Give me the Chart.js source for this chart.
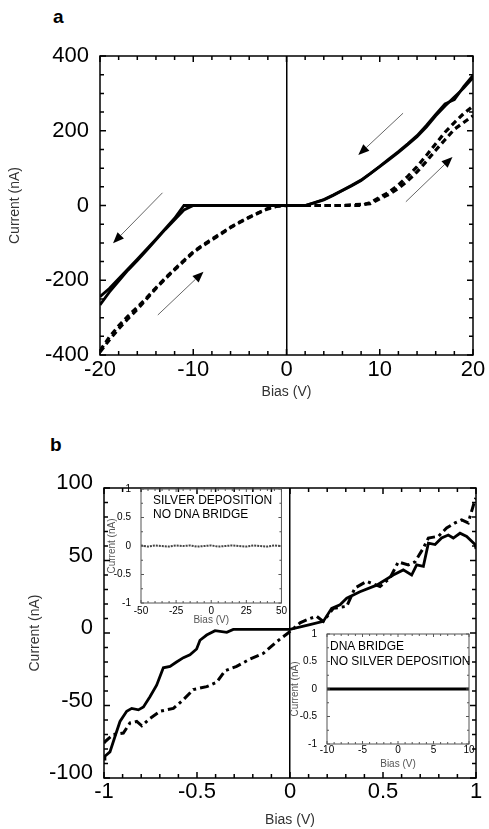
<!DOCTYPE html>
<html>
<head>
<meta charset="utf-8">
<script src="https://cdn.jsdelivr.net/npm/chart.js@4.4.1/dist/chart.umd.min.js"></script>
<style>
  body { margin: 0; background: #fff; width: 489px; height: 829px; overflow: hidden; position: relative; font-family: 'Liberation Sans', Arial, sans-serif; }
  .box { position: absolute; }
  .panel-letter { position: absolute; font-weight: bold; font-size: 19px; color: #000; }
  .note { position: absolute; font-size: 12px; color: #000; white-space: nowrap; line-height: 14px; }
</style>
</head>
<body>
<div class="panel-letter" style="left:53px; top:6px;">a</div>
<div class="panel-letter" style="left:50px; top:434px;">b</div>

<div class="box" style="left:0; top:0;"><canvas id="chartA" width="489" height="410"></canvas></div>
<div class="box" style="left:0; top:420px;"><canvas id="chartB" width="489" height="409"></canvas></div>
<div class="box" style="left:105px; top:480px;"><canvas id="inset1" width="184" height="146"></canvas></div>
<div class="box" style="left:287px; top:626px;"><canvas id="inset2" width="188" height="144"></canvas></div>

<div class="note" style="left:153px; top:493px;">SILVER DEPOSITION<br>NO DNA BRIDGE</div>
<div class="note" style="left:330px; top:639px; line-height:15px;">DNA BRIDGE<br>NO SILVER DEPOSITION</div>

<script>
// panel a: bias sweep -20..20 V, current in nA
const biasA = [-20,-19,-18,-17,-16,-15,-14,-13,-12,-11,-10,-9,-8,-7,-6,-5,-4,-3,-2,-1,0,1,2,3,4,5,6,7,8,9,10,11,12,13,14,15,16,17,18,19,20];
const solidSweepA = [-244,-222,-196,-170,-144,-117,-90,-62,-34,0,0,0,0,0,0,0,0,0,0,0,0,0,0,7,15,27,40,53,67,85,104,123,142,163,184,210,240,266,290,314,342];
const solidReturnA = [-266,-232,-202,-173,-147,-120,-92,-64,-38,-12,0,0,0,0,0,0,0,0,0,0,0,0,0,8,16,28,41,54,68,86,105,125,144,165,187,214,244,272,283,318,348];
const dashedSweepA = [-392,-360,-330,-303,-278,-250,-222,-196,-172,-149,-126,-108,-92,-76,-59,-45,-32,-20,-9,-2,0,0,0,0,0,0,0,0,0,8,22,36,55,78,104,134,165,196,222,246,266];
const dashedReturnA = [-388,-352,-322,-296,-272,-247,-220,-194,-170,-147,-124,-106,-90,-74,-58,-44,-31,-19,-8,-2,0,0,0,0,0,0,0,2,3,5,18,30,46,66,90,118,148,176,204,222,240];
const ticksA_x = [-20,-10,0,10,20];
const ticksA_y = [-400,-200,0,200,400];
// sweep direction arrows [fromBias, fromCurrent, toBias, toCurrent]
const arrowsA = [[12.5,247,7.7,135],[12.8,10,17.8,130],[-13.3,34,-18.6,-101],[-13.8,-293,-8.9,-177]];

// panel b
const biasBSolid = [-1,-0.995,-0.968,-0.94,-0.914,-0.878,-0.851,-0.815,-0.788,-0.753,-0.717,-0.681,-0.645,-0.61,-0.573,-0.538,-0.502,-0.484,-0.448,-0.403,-0.34,-0.305,0,0.107,0.179,0.224,0.269,0.305,0.376,0.466,0.555,0.609,0.654,0.681,0.717,0.744,0.78,0.815,0.851,0.878,0.914,0.95,0.995,1];
const currentBSolid = [-87,-85,-82,-71,-61,-54,-52,-53,-51,-44,-36,-24,-23,-20,-17,-15,-11,-5,-1.4,1.6,0.5,2.5,2.5,5.7,8,17,19.5,24,28.5,33,40,43.5,40,47,46,62,61,65.5,67.6,65.5,68.8,66.6,61,58];
const biasBDash = [-1,-0.995,-0.95,-0.896,-0.86,-0.824,-0.797,-0.753,-0.699,-0.627,-0.573,-0.52,-0.448,-0.394,-0.349,-0.287,-0.215,-0.143,-0.072,-0.01,0.054,0.107,0.143,0.179,0.233,0.305,0.349,0.412,0.484,0.538,0.582,0.636,0.672,0.717,0.744,0.798,0.842,0.887,0.923,0.958,0.995,1];
const currentBDash = [-76,-75,-70,-69,-62,-61,-64,-59,-54,-52,-46,-39,-37,-34,-26,-23,-18,-14,-6,0,7,10,11.5,8,17,18.4,31,35.6,32,38,49,47,49,58.6,65.5,66.7,72.4,75.9,78,75.9,92,93];

// insets
const biasInset1 = [-50,-45,-40,-35,-30,-25,-20,-15,-10,-5,0,5,10,15,20,25,30,35,40,45,50];
const currentInset1 = [0.01,-0.01,0.01,0,-0.01,0.01,0,0.01,-0.01,0,0.01,-0.01,0,0.01,0,-0.01,0.01,0,-0.01,0.01,0];
const biasInset2 = [-10,-5,0,5,10];
const currentInset2 = [0,0,0,0,0];

Chart.defaults.font.family = "'Liberation Sans', Arial, sans-serif";
Chart.defaults.color = '#000';

const pts = (xs, ys) => xs.map((v, i) => ({ x: v, y: ys[i] }));

// frame box + inward ticks on all four sides
const frameTicks = {
    id: 'frameTicks',
    afterDatasetsDraw(chart, args, opts) {
        const { ctx, chartArea: a, scales: { x, y } } = chart;
        ctx.save();
        ctx.strokeStyle = opts.color;
        ctx.lineWidth = opts.width;
        ctx.strokeRect(a.left, a.top, a.right - a.left, a.bottom - a.top);
        const marks = (scale, minor, major, cb) => {
            const n = Math.round((scale.max - scale.min) / minor);
            for (let i = 0; i <= n; i++) {
                const v = scale.min + i * minor;
                const isMajor = Math.abs(v / major - Math.round(v / major)) < 1e-6;
                cb(scale.getPixelForValue(v), isMajor ? opts.major : opts.minor);
            }
        };
        ctx.beginPath();
        marks(x, opts.xMinor, opts.xMajor, (px, len) => {
            ctx.moveTo(px, a.bottom); ctx.lineTo(px, a.bottom - len);
            ctx.moveTo(px, a.top); ctx.lineTo(px, a.top + len);
        });
        marks(y, opts.yMinor, opts.yMajor, (py, len) => {
            ctx.moveTo(a.left, py); ctx.lineTo(a.left + len, py);
            ctx.moveTo(a.right, py); ctx.lineTo(a.right - len, py);
        });
        ctx.stroke();
        ctx.restore();
    }
};

const sweepArrows = {
    id: 'sweepArrows',
    afterDatasetsDraw(chart, args, opts) {
        const { ctx, scales: { x, y } } = chart;
        ctx.save();
        opts.list.forEach(([b1, c1, b2, c2]) => {
            const x1 = x.getPixelForValue(b1), y1 = y.getPixelForValue(c1);
            const x2 = x.getPixelForValue(b2), y2 = y.getPixelForValue(c2);
            const ang = Math.atan2(y2 - y1, x2 - x1);
            const hl = 11, hw = 4.5;
            const bx = x2 - hl * Math.cos(ang), by = y2 - hl * Math.sin(ang);
            ctx.strokeStyle = '#666';
            ctx.lineWidth = 1;
            ctx.beginPath();
            ctx.moveTo(x1, y1);
            ctx.lineTo(bx, by);
            ctx.stroke();
            ctx.fillStyle = '#000';
            ctx.beginPath();
            ctx.moveTo(x2, y2);
            ctx.lineTo(bx + hw * Math.sin(ang), by - hw * Math.cos(ang));
            ctx.lineTo(bx - hw * Math.sin(ang), by + hw * Math.cos(ang));
            ctx.closePath();
            ctx.fill();
        });
        ctx.restore();
    }
};

const zeroLine = c => (c.tick && c.tick.value === 0) ? '#000' : 'rgba(0,0,0,0)';
const plain = v => String(v);

function lineSet(data, width, dash, color) {
    return { data: data, borderColor: color || '#000', borderWidth: width, borderDash: dash || [],
             pointRadius: 0, tension: 0, fill: false };
}

function mainOptions(cfg) {
    return {
        responsive: false,
        animation: false,
        layout: { padding: cfg.padding },
        plugins: {
            legend: { display: false },
            tooltip: { enabled: false },
            frameTicks: cfg.frame,
            sweepArrows: { list: cfg.arrows || [] }
        },
        scales: {
            x: {
                type: 'linear', min: cfg.xMin, max: cfg.xMax,
                afterBuildTicks: s => { s.ticks = cfg.xTicks.map(v => ({ value: v })); },
                afterFit: s => { s.height = cfg.xHeight; },
                ticks: { font: { size: cfg.tickSize }, padding: cfg.xPad, maxRotation: 0, autoSkip: false, callback: plain },
                grid: { drawTicks: false, color: cfg.zero ? zeroLine : 'rgba(0,0,0,0)', lineWidth: 1.5 },
                border: { display: false },
                title: { display: true, text: 'Bias (V)', color: cfg.titleColor, font: { size: cfg.titleSize }, padding: { top: 0, bottom: cfg.xTitlePad } }
            },
            y: {
                type: 'linear', min: cfg.yMin, max: cfg.yMax,
                afterBuildTicks: s => { s.ticks = cfg.yTicks.map(v => ({ value: v })); },
                afterFit: s => { s.width = cfg.yWidth; },
                ticks: { font: { size: cfg.tickSize }, padding: cfg.yPad, labelOffset: cfg.yLabelOffset || 0, autoSkip: false, callback: plain },
                grid: { display: false },
                border: { display: false },
                title: { display: true, text: 'Current (nA)', color: cfg.titleColor, font: { size: cfg.titleSize }, padding: { top: cfg.yTitlePad, bottom: 0 } }
            }
        }
    };
}

new Chart(document.getElementById('chartA'), {
    type: 'line',
    data: { datasets: [
        lineSet(pts(biasA, solidSweepA), 2.8),
        lineSet(pts(biasA, solidReturnA), 2.8),
        lineSet(pts(biasA, dashedSweepA), 3.2, [6, 4]),
        lineSet(pts(biasA, dashedReturnA), 3.2, [6, 4])
    ] },
    options: mainOptions({
        padding: { left: 0, top: 56, right: 16, bottom: 6 },
        xMin: -20, xMax: 20, yMin: -400, yMax: 400,
        xTicks: ticksA_x, yTicks: ticksA_y,
        xHeight: 49, yWidth: 100, tickSize: 22, xPad: 2, yPad: 3,
        titleColor: '#333', titleSize: 14, xTitlePad: 3, yTitlePad: 7, zero: true,
        frame: { color: '#000', width: 1.5, xMinor: 2, xMajor: 10, yMinor: 50, yMajor: 200, minor: 4, major: 6 },
        arrows: arrowsA
    }),
    plugins: [frameTicks, sweepArrows]
});

new Chart(document.getElementById('chartB'), {
    type: 'line',
    data: { datasets: [
        lineSet(pts(biasBSolid, currentBSolid), 2.8),
        lineSet(pts(biasBDash, currentBDash), 3, [9, 4, 3, 4])
    ] },
    options: mainOptions({
        padding: { left: 20, top: 68, right: 13, bottom: 0 },
        xMin: -1, xMax: 1, yMin: -100, yMax: 100,
        xTicks: [-1, -0.5, 0, 0.5, 1], yTicks: [-100, -50, 0, 50, 100],
        xHeight: 51, yWidth: 84, tickSize: 22, xPad: 1, yPad: 3, yLabelOffset: -5,
        titleColor: '#333', titleSize: 14, xTitlePad: 0, yTitlePad: 7, zero: true,
        frame: { color: '#000', width: 1.5, xMinor: 0.1, xMajor: 0.5, yMinor: 10, yMajor: 50, minor: 4, major: 6 }
    }),
    plugins: [frameTicks, sweepArrows]
});

new Chart(document.getElementById('inset1'), {
    type: 'line',
    data: { datasets: [ lineSet(pts(biasInset1, currentInset1), 2, [2, 1], '#444') ] },
    options: mainOptions({
        padding: { left: 0, top: 9, right: 6, bottom: 0 },
        xMin: -50, xMax: 50, yMin: -1, yMax: 1,
        xTicks: [-50, -25, 0, 25, 50], yTicks: [-1, -0.5, 0, 0.5, 1],
        xHeight: 23, yWidth: 36, tickSize: 10, xPad: 2, yPad: 2,
        titleColor: '#555', titleSize: 10, xTitlePad: 0, yTitlePad: 1, zero: false,
        frame: { color: '#555', width: 1, xMinor: 5, xMajor: 25, yMinor: 0.25, yMajor: 0.5, minor: 2, major: 3 }
    }),
    plugins: [frameTicks]
});

new Chart(document.getElementById('inset2'), {
    type: 'line',
    data: { datasets: [ lineSet(pts(biasInset2, currentInset2), 3) ] },
    options: mainOptions({
        padding: { left: 0, top: 8, right: 6, bottom: 0 },
        xMin: -10, xMax: 10, yMin: -1, yMax: 1,
        xTicks: [-10, -5, 0, 5, 10], yTicks: [-1, -0.5, 0, 0.5, 1],
        xHeight: 26, yWidth: 40, tickSize: 10, xPad: 0, yPad: 2,
        titleColor: '#555', titleSize: 10, xTitlePad: 0, yTitlePad: 2, zero: false,
        frame: { color: '#555', width: 1, xMinor: 1, xMajor: 5, yMinor: 0.25, yMajor: 0.5, minor: 2, major: 3 }
    }),
    plugins: [frameTicks]
});
</script>
</body>
</html>
